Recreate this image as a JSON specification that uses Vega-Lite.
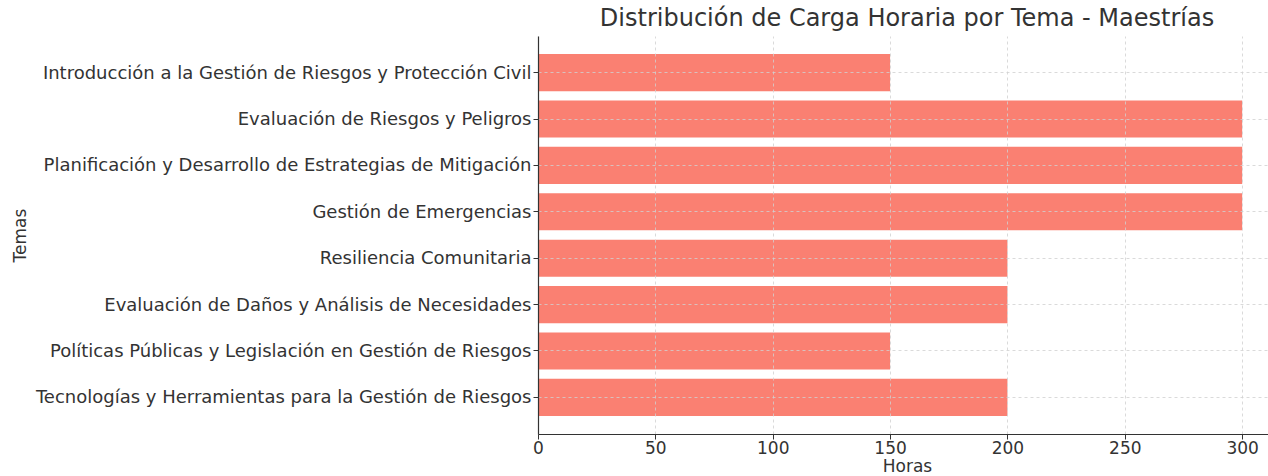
{
  "$schema": "https://vega.github.io/schema/vega-lite/v6.json",
  "autosize": {"type": "none"},
  "width": 730,
  "height": 398,
  "padding": {"left": 538, "top": 36, "right": 0, "bottom": 42},
  "background": "white",
  "title": {
    "text": "Distribución de Carga Horaria por Tema - Maestrías",
    "font": "DejaVu Sans",
    "fontSize": 24,
    "fontWeight": "normal",
    "color": "#333333",
    "anchor": "middle",
    "dx": 4,
    "offset": 5
  },
  "data": {
    "values": [
      {"tema": "Introducción a la Gestión de Riesgos y Protección Civil", "horas": 150},
      {"tema": "Evaluación de Riesgos y Peligros", "horas": 300},
      {"tema": "Planificación y Desarrollo de Estrategias de Mitigación", "horas": 300},
      {"tema": "Gestión de Emergencias", "horas": 300},
      {"tema": "Resiliencia Comunitaria", "horas": 200},
      {"tema": "Evaluación de Daños y Análisis de Necesidades", "horas": 200},
      {"tema": "Políticas Públicas y Legislación en Gestión de Riesgos", "horas": 150},
      {"tema": "Tecnologías y Herramientas para la Gestión de Riesgos", "horas": 200}
    ]
  },
  "mark": {"type": "bar", "color": "#FA8072"},
  "encoding": {
    "y": {
      "field": "tema",
      "type": "nominal",
      "sort": null,
      "title": "Temas",
      "scale": {"paddingInner": 0.2, "paddingOuter": 0.39},
      "axis": {
        "grid": true,
        "gridDash": [3, 3],
        "gridColor": "#d0d0d0",
        "gridWidth": 0.8,
        "zindex": 1,
        "domainColor": "#333333",
        "domainWidth": 1.2,
        "tickColor": "#333333",
        "tickSize": 5,
        "labelPadding": 2,
        "labelFont": "DejaVu Sans",
        "labelFontSize": 18,
        "labelColor": "#333333",
        "labelLimit": 600,
        "labelBaseline": "middle",
        "labelOffset": 1,
        "titleFont": "DejaVu Sans",
        "titleFontSize": 17,
        "titleFontWeight": "normal",
        "titleColor": "#333333",
        "titleX": -518,
        "titleBaseline": "middle"
      }
    },
    "x": {
      "field": "horas",
      "type": "quantitative",
      "title": "Horas",
      "scale": {"domain": [0, 311], "nice": false, "zero": true},
      "axis": {
        "values": [0, 50, 100, 150, 200, 250, 300],
        "grid": true,
        "gridDash": [3, 3],
        "gridColor": "#d0d0d0",
        "gridWidth": 0.8,
        "zindex": 1,
        "domainColor": "#333333",
        "domainWidth": 1.2,
        "tickColor": "#333333",
        "tickSize": 5,
        "labelPadding": 1,
        "labelFlush": false,
        "labelFont": "DejaVu Sans",
        "labelFontSize": 17,
        "labelColor": "#333333",
        "titleFont": "DejaVu Sans",
        "titleFontSize": 17,
        "titleFontWeight": "normal",
        "titleColor": "#333333",
        "titleX": 369,
        "titleY": 32,
        "titleBaseline": "middle"
      }
    }
  },
  "config": {"view": {"stroke": null}}
}
